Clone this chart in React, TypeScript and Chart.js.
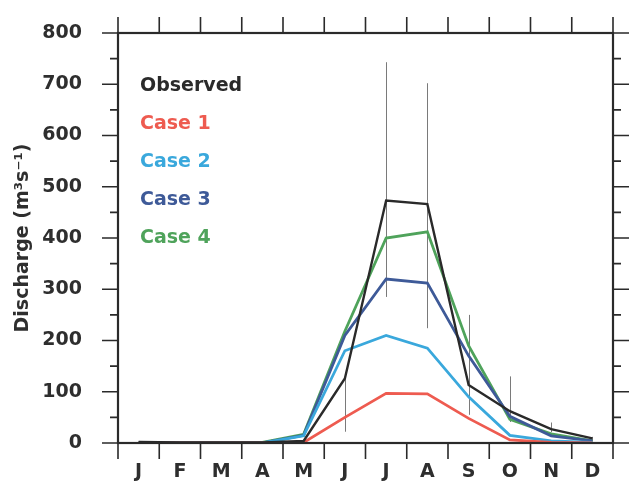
import React, { useEffect, useRef } from 'react';
import { Chart, registerables } from 'chart.js';

Chart.register(...registerables);

const months = ['J', 'F', 'M', 'A', 'M', 'J', 'J', 'A', 'S', 'O', 'N', 'D'];
const observed = [2, 1, 1, 1, 4, 126, 473, 466, 113, 62, 27, 9];
const observedLow = [null, null, null, null, null, 22, 285, 224, 55, 41, 21, 3];
const observedHigh = [null, null, null, null, null, 128, 743, 702, 250, 130, 40, 12];
const case1 = [0, 0, 0, 0, 1, 50, 97, 96, 48, 6, 1, 0];
const case2 = [0, 0, 0, 0, 14, 180, 210, 185, 90, 15, 4, 1];
const case3 = [0, 0, 0, 0, 15, 210, 320, 312, 170, 52, 14, 4];
const case4 = [0, 0, 0, 1, 17, 218, 400, 412, 190, 46, 18, 4];
const seriesNames = ['Observed', 'Case 1', 'Case 2', 'Case 3', 'Case 4'];
const seriesColors = ['#2a2a2a', '#ee5b50', '#3aa8dc', '#3e5a98', '#4fa35b'];
const yMin = 0;
const yMax = 800;
const yStep = 100;
const yMinorStep = 50;
const yTitle = 'Discharge (m³s⁻¹)';

const FONT = 'DejaVu Sans';

const errorBarPlugin = {
  id: 'errorBars',
  beforeDatasetsDraw(chart: any) {
    const { ctx, scales } = chart;
    const x = scales.x;
    const y = scales.y;
    ctx.save();
    ctx.strokeStyle = '#7a7a7a';
    ctx.lineWidth = 1;
    observedLow.forEach((lo, i) => {
      const hi = observedHigh[i];
      if (lo == null || hi == null) return;
      const px = Math.round(x.getPixelForValue(i)) + 0.5;
      ctx.beginPath();
      ctx.moveTo(px, y.getPixelForValue(lo));
      ctx.lineTo(px, y.getPixelForValue(hi));
      ctx.stroke();
    });
    ctx.restore();
  },
};

const framePlugin = {
  id: 'frameTicks',
  afterDraw(chart: any) {
    const { ctx, chartArea: a, scales } = chart;
    const y = scales.y;
    ctx.save();
    ctx.strokeStyle = '#2a2a2a';
    ctx.lineWidth = 1.6;
    ctx.beginPath();
    for (let v = yMin; v <= yMax; v += yMinorStep) {
      const py = y.getPixelForValue(v);
      const len = v % yStep === 0 ? 16 : 8;
      ctx.moveTo(a.left, py);
      ctx.lineTo(a.left - len, py);
      ctx.moveTo(a.right, py);
      ctx.lineTo(a.right + len, py);
    }
    const n = months.length;
    for (let i = 0; i <= n; i++) {
      const px = a.left + (i * (a.right - a.left)) / n;
      ctx.moveTo(px, a.bottom);
      ctx.lineTo(px, a.bottom + 16);
      ctx.moveTo(px, a.top);
      ctx.lineTo(px, a.top - 16);
    }
    ctx.stroke();
    ctx.lineWidth = 2.2;
    ctx.strokeRect(a.left, a.top, a.right - a.left, a.bottom - a.top);
    ctx.restore();
  },
};

const legendPlugin = {
  id: 'textLegend',
  afterDraw(chart: any) {
    const { ctx, chartArea: a } = chart;
    ctx.save();
    ctx.font = `bold 19px "${FONT}"`;
    ctx.textBaseline = 'middle';
    ctx.textAlign = 'left';
    chart.data.datasets.forEach((ds: any, i: number) => {
      ctx.fillStyle = ds.borderColor;
      ctx.fillText(ds.label, a.left + 22, a.top + 53 + i * 38);
    });
    ctx.restore();
  },
};

export default function App() {
  const ref = useRef<HTMLCanvasElement>(null);
  useEffect(() => {
    if (!ref.current) return;
    const seriesData = [observed, case1, case2, case3, case4];
    const chart = new Chart(ref.current, {
      type: 'line',
      data: {
        labels: months,
        datasets: seriesData.map((d, i) => ({
          label: seriesNames[i],
          data: d,
          borderColor: seriesColors[i],
          backgroundColor: seriesColors[i],
          borderWidth: i === 0 ? 2.4 : 2.8,
          pointRadius: 0,
          tension: 0,
          fill: false,
        })),
      },
      options: {
        responsive: false,
        animation: false,
        layout: { autoPadding: false, padding: { left: 0, right: 21, top: 33, bottom: 0 } },
        plugins: { legend: { display: false }, tooltip: { enabled: false } },
        scales: {
          x: {
            type: 'category',
            offset: true,
            grid: { display: false, drawTicks: true, tickLength: 18 },
            border: { display: false },
            ticks: {
              padding: 0,
              color: '#2e2e2e',
              font: { family: FONT, size: 19, weight: 'bold' },
              maxRotation: 0,
              autoSkip: false,
            },
            afterFit: (s: any) => {
              s.height = 41;
            },
          },
          y: {
            min: yMin,
            max: yMax,
            grid: { display: false, drawTicks: true, tickLength: 36 },
            border: { display: false },
            ticks: {
              stepSize: yStep,
              padding: 0,
              color: '#2e2e2e',
              font: { family: FONT, size: 19, weight: 'bold' },
            },
            title: {
              display: true,
              text: yTitle,
              color: '#2e2e2e',
              font: { family: FONT, size: 19, weight: 'bold' },
              padding: { top: 12, bottom: 0 },
            },
            afterFit: (s: any) => {
              s.width = 118;
            },
          },
        },
      } as any,
      plugins: [errorBarPlugin, framePlugin, legendPlugin],
    });
    return () => chart.destroy();
  }, []);
  return (
    <div style={{ position: 'absolute', left: 0, top: 0, width: 634, height: 484, background: '#fff' }}>
      <canvas ref={ref} width={634} height={484} style={{ display: 'block' }} />
    </div>
  );
}
